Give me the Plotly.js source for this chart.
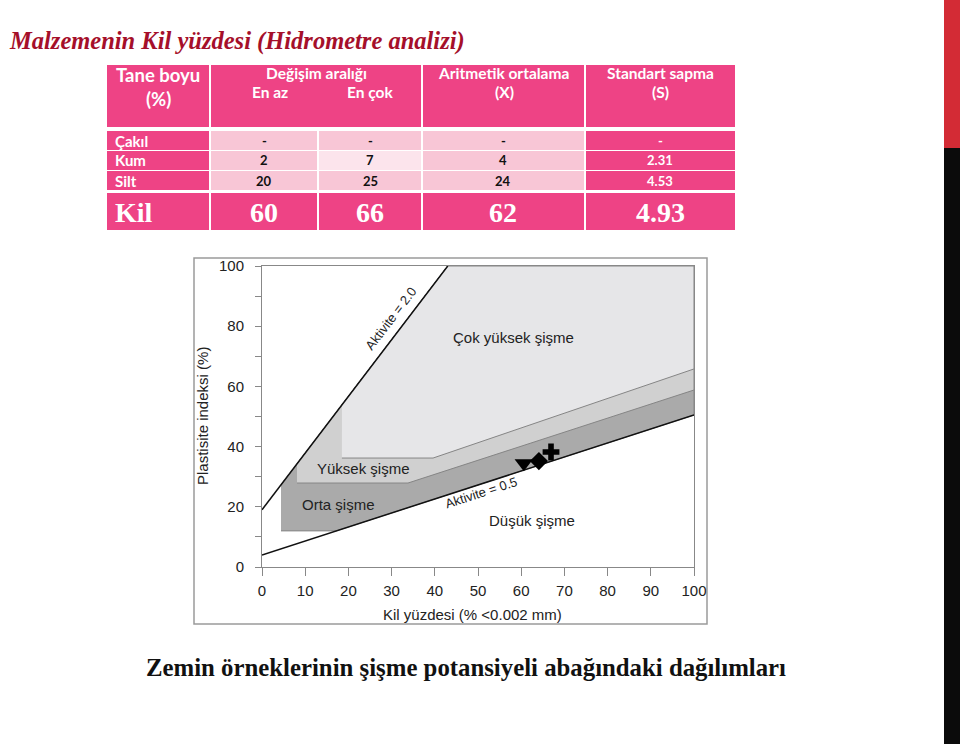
<!DOCTYPE html>
<html>
<head>
<meta charset="utf-8">
<script src="https://cdn.plot.ly/plotly-3.0.1.min.js"></script>
<style>html,body{margin:0;padding:0;background:#fff;}#chart{width:960px;height:744px;}</style>
</head>
<body>
<div id="chart"></div>
<script>
// ---------- Table data ----------
const rowLabels = ["Çakıl", "Kum", "Silt", "Kil"];
const enAz      = ["-", "2", "20", "60"];
const enCok     = ["-", "7", "25", "66"];
const ortalama  = ["-", "4", "24", "62"];
const sapma     = ["-", "2.31", "4.53", "4.93"];
const headerTop = ["Tane boyu", "Değişim aralığı", "Aritmetik ortalama", "Standart sapma"];
const headerSub = ["(%)", "En az", "En çok", "(X)", "(S)"];

// ---------- Chart data (clay % vs plasticity index %) ----------
const xTicks = [0, 10, 20, 30, 40, 50, 60, 70, 80, 90, 100];
const yTicks = [0, 10, 20, 30, 40, 50, 60, 70, 80, 90, 100];
const yTickText = ["0", "", "20", "", "40", "", "60", "", "80", "", "100"];

const ortaX   = [4.4, 17.2, 100, 100, 43, 4.4];
const ortaY   = [12, 12, 50.5, 100, 100, 27.3];
const yuksekX = [8.1, 33.8, 100, 100, 43, 8.1];
const yuksekY = [27.9, 27.9, 58.8, 100, 100, 34.3];
const cokX    = [18.5, 39.6, 100, 100, 43, 18.5];
const cokY    = [36.2, 36.2, 65.8, 100, 100, 53.9];

const akt20X = [0, 43];
const akt20Y = [19, 100];
const akt05X = [0, 100];
const akt05Y = [4, 50.5];

const sampleX = [60.6, 64.1, 66.9];
const sampleY = [34.5, 35.2, 38.2];
const sampleSymbols = ["triangle-down", "diamond", "cross"];
const sampleSizes = [16, 14, 14];

const zoneLabels = ["Çok yüksek şişme", "Yüksek şişme", "Orta şişme", "Düşük şişme"];
const zoneLabelX = [58.3, 23.4, 17.8, 62.5];
const zoneLabelY = [76.4, 32.6, 20.6, 15.6];

// ---------- helpers ----------
const W = 960, H = 744;
const px = v => v / W;
const py = v => 1 - v / H;

const PINK = "#EE4385";
const LIGHT = "#F8C6D6";
const LIGHTER = "#FCE4EC";

const shapes = [];
const annotations = [];

function rect(x0, y0, x1, y1, color, line) {
  shapes.push({type: "rect", xref: "paper", yref: "paper",
    x0: px(x0), x1: px(x1), y0: py(y1), y1: py(y0),
    fillcolor: color, line: line || {width: 0}, layer: "below"});
}
function txt(x, y, text, size, color, opts) {
  annotations.push(Object.assign({xref: "paper", yref: "paper", x: px(x), y: py(y),
    text: text, showarrow: false, xanchor: "center", yanchor: "middle",
    font: {family: "Lato, 'DejaVu Sans', sans-serif", size: size, color: color}}, opts || {}));
}

// right decorative bar
rect(944, 0, 960, 148, "#D32B35");
rect(944, 148, 960, 744, "#0b0b0b");

// table
const colEdges = [107, 210, 318, 422, 585, 735];
const colCenters = [158, 264, 370, 503, 660];
const G = 1; // half gap
rect(107, 65, 210 - G, 127, PINK);
rect(210 + G, 65, 422 - G, 127, PINK);
rect(422 + G, 65, 585 - G, 127, PINK);
rect(585 + G, 65, 735, 127, PINK);
txt(158, 75, "<b>" + headerTop[0] + "</b>", 18.5, "#fff");
txt(158, 99, "<b>" + headerSub[0] + "</b>", 18.5, "#fff");
txt(316, 73, "<b>" + headerTop[1] + "</b>", 15.5, "#fff");
txt(270, 92, "<b>" + headerSub[1] + "</b>", 15.5, "#fff");
txt(370, 92, "<b>" + headerSub[2] + "</b>", 15.5, "#fff");
txt(503, 73, "<b>" + headerTop[2] + "</b>", 15.5, "#fff");
txt(504, 92, "<b>" + headerSub[3] + "</b>", 15.5, "#fff");
txt(660, 73, "<b>" + headerTop[3] + "</b>", 15.5, "#fff");
txt(660, 92, "<b>" + headerSub[4] + "</b>", 15.5, "#fff");

const rowTops = [131, 151, 171, 193];
const rowBots = [150, 170, 190, 230];
const cols = [enAz, enCok, ortalama, sapma];
for (let r = 0; r < rowLabels.length; r++) {
  const t = rowTops[r], b = rowBots[r];
  const isKil = r === rowLabels.length - 1;
  for (let c = 0; c < 5; c++) {
    const x0 = colEdges[c] + (c === 0 ? 0 : G);
    const x1 = colEdges[c + 1] - (c === 4 ? 0 : G);
    let col = PINK;
    if (!isKil && c >= 1 && c <= 3) col = (r === 1 && c === 2) ? LIGHTER : LIGHT;
    rect(x0, t, x1, b, col);
  }
  const yc = (t + b) / 2;
  if (isKil) {
    const serif = {family: "'Liberation Serif', 'Times New Roman', serif", size: 28, color: "#fff"};
    annotations.push({xref: "paper", yref: "paper", x: px(113), y: py(yc + 1), xanchor: "left", yanchor: "middle",
      text: "<b>" + rowLabels[r] + "</b>", showarrow: false, font: serif});
    for (let c = 0; c < 4; c++) {
      annotations.push({xref: "paper", yref: "paper", x: px(colCenters[c + 1]), y: py(yc + 1), xanchor: "center", yanchor: "middle",
        text: "<b>" + cols[c][r] + "</b>", showarrow: false, font: serif});
    }
  } else {
    txt(113, yc, "<b>" + rowLabels[r] + "</b>", 15, "#fff", {xanchor: "left"});
    for (let c = 0; c < 4; c++) {
      txt(colCenters[c + 1], yc, "<b>" + cols[c][r] + "</b>", 13, c === 3 ? "#fff" : "#111");
    }
  }
}

// slide title & caption
annotations.push({xref: "paper", yref: "paper", x: px(7), y: py(41), xanchor: "left", yanchor: "middle",
  text: "<b><i>Malzemenin Kil yüzdesi (Hidrometre analizi)</i></b>", showarrow: false,
  font: {family: "'Liberation Serif', 'Times New Roman', serif", size: 24.5, color: "#A50F2A"}});
annotations.push({xref: "paper", yref: "paper", x: px(466), y: py(667), xanchor: "center", yanchor: "middle",
  text: "<b>Zemin örneklerinin şişme potansiyeli abağındaki dağılımları</b>", showarrow: false,
  font: {family: "'Liberation Serif', 'Times New Roman', serif", size: 24.8, color: "#111"}});

// chart frame
shapes.push({type: "rect", xref: "paper", yref: "paper", x0: px(194), x1: px(707), y0: py(624), y1: py(258),
  line: {color: "#9a9a9a", width: 1.5}, fillcolor: "rgba(0,0,0,0)", layer: "below"});

// axis titles
const AF = "'Liberation Sans', Arial, sans-serif";
annotations.push({xref: "paper", yref: "paper", x: px(203), y: py(416), textangle: -90, xanchor: "center", yanchor: "middle",
  text: "Plastisite indeksi (%)", showarrow: false, font: {family: AF, size: 15, color: "#222"}});
annotations.push({xref: "paper", yref: "paper", x: px(472), y: py(614), xanchor: "center", yanchor: "middle",
  text: "Kil yüzdesi (% <0.002 mm)", showarrow: false, font: {family: AF, size: 15, color: "#222"}});

for (let i = 0; i < zoneLabels.length; i++) {
  annotations.push({xref: "x", yref: "y", x: zoneLabelX[i], y: zoneLabelY[i], text: zoneLabels[i],
    showarrow: false, font: {family: AF, size: 15, color: "#222"}});
}
annotations.push({xref: "x", yref: "y", x: 29.9, y: 82.4, text: "Aktivite = 2.0", textangle: -52.7,
  showarrow: false, font: {family: AF, size: 13, color: "#222"}});
annotations.push({xref: "x", yref: "y", x: 50.9, y: 24.6, text: "Aktivite = 0.5", textangle: -17.9,
  showarrow: false, font: {family: AF, size: 13, color: "#222"}});

const edge = {color: "#858585", width: 1};
const traces = [
  {x: ortaX, y: ortaY, mode: "lines", fill: "toself", fillcolor: "#AAAAAA", line: edge, hoverinfo: "skip"},
  {x: yuksekX, y: yuksekY, mode: "lines", fill: "toself", fillcolor: "#D0D0D0", line: edge, hoverinfo: "skip"},
  {x: cokX, y: cokY, mode: "lines", fill: "toself", fillcolor: "#E6E6E8", line: edge, hoverinfo: "skip"},
  {x: akt20X, y: akt20Y, mode: "lines", line: {color: "#111", width: 1.5}},
  {x: akt05X, y: akt05Y, mode: "lines", line: {color: "#111", width: 1.5}},
  {x: sampleX, y: sampleY, mode: "markers", cliponaxis: false,
   marker: {symbol: sampleSymbols, size: sampleSizes, color: "#000", opacity: 1, line: {width: 0}}}
];

const layout = {
  width: W, height: H, showlegend: false,
  margin: {l: 0, r: 0, t: 0, b: 0},
  paper_bgcolor: "#fff", plot_bgcolor: "rgba(0,0,0,0)",
  xaxis: {domain: [px(262), px(694)], range: [0, 100], tickvals: xTicks, ticks: "outside", ticklen: 8,
    tickcolor: "#888", showline: true, linecolor: "#888", linewidth: 1, mirror: true, showgrid: false, zeroline: false,
    tickfont: {family: AF, size: 15, color: "#222"}, ticklabelstandoff: 2, fixedrange: true},
  yaxis: {domain: [py(567), py(266)], range: [0, 100], tickvals: yTicks, ticktext: yTickText, ticks: "outside", ticklen: 6,
    tickcolor: "#888", showline: true, linecolor: "#888", linewidth: 1, mirror: true, showgrid: false, zeroline: false,
    tickfont: {family: AF, size: 15, color: "#222"}, ticklabelstandoff: 8, fixedrange: true},
  shapes: shapes,
  annotations: annotations
};

Plotly.newPlot("chart", traces, layout, {displayModeBar: false, staticPlot: true});
</script>
</body>
</html>
